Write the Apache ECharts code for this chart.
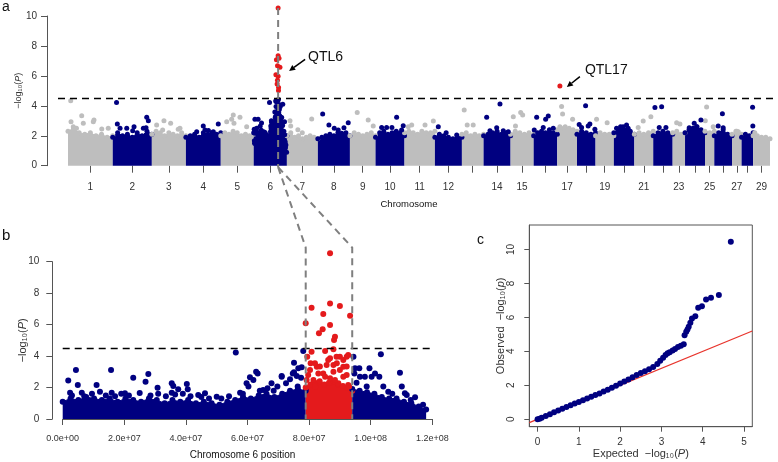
<!DOCTYPE html>
<html><head><meta charset="utf-8">
<script src="https://cdn.jsdelivr.net/npm/echarts@6/dist/echarts.min.js"></script>
<style>html,body{margin:0;padding:0;background:#fff}#c{width:778px;height:462px}</style>
</head><body><div id="c"></div>
<script>
// ---------------- DATA ----------------
const chrLenMb = [159,139,121,124,117,118,110,114,91,103,108,96,77,96,82,84,70,66,65,73,67,69,44,71,33,63,34,41,60];
const labeledChr = [1,2,3,4,5,6,7,8,9,10,11,12,14,15,17,19,21,23,25,27,29];
const threshold = 4.5;
// upper edge of the dense SNP band per chromosome (panel a), evenly along each chromosome
const bandTopA = [
 [2.3,2.5,2.2,2.1,2.2,2.0,2.1,1.9,2.0],
 [1.9,2.2,2.0,2.1,1.9,2.2,2.0,2.3,2.1],
 [2.1,2.3,2.2,2.0,2.2,2.1,2.0,2.2,2.0],
 [1.9,2.0,2.1,1.9,2.2,2.1,2.2,2.1,2.2],
 [2.0,2.2,2.1,2.3,2.2,2.0,2.1,2.0,2.1],
 [2.2,2.5,2.2,2.0,2.1,2.0,2.2,2.6,3.3,3.0,2.3,2.0],
 [2.0,2.2,1.9,2.0,1.8,1.9,2.0,1.9,1.8],
 [1.8,1.9,2.0,2.1,2.0,2.2,2.1,2.2,2.0],
 [2.0,2.2,2.1,2.0,2.1,2.2,2.0],
 [1.9,2.2,2.3,2.1,2.2,2.3,2.2,2.0],
 [2.2,2.3,2.2,2.1,2.3,2.2,2.2,2.3],
 [1.9,2.1,2.0,1.9,1.8,1.9,1.9],
 [2.1,2.2,2.0,2.1,2.0,2.1],
 [2.0,2.1,2.2,2.3,2.1,2.2,2.0],
 [2.1,2.3,2.2,2.1,2.2,2.1],
 [2.0,2.2,2.3,2.2,2.4,2.2,2.1],
 [2.4,2.5,2.6,2.5,2.4,2.3],
 [2.1,2.3,2.2,2.1,2.2],
 [2.0,2.2,2.1,2.1,2.0],
 [2.2,2.4,2.5,2.4,2.3,2.1],
 [2.1,2.2,2.1,2.2,2.3],
 [2.0,2.2,2.3,2.2,2.1],
 [2.2,2.3,2.1,2.2],
 [2.2,2.4,2.5,2.6,2.4,2.2],
 [2.3,2.2,2.3],
 [2.0,2.2,2.4,2.1,2.0],
 [2.1,2.3,2.1],
 [1.9,2.1,2.0,2.2],
 [2.0,2.0,1.9,1.9,1.8]
];
// individual SNPs above the band (chromosome, position Mb, -log10 P), chromosome 6 excluded
const dotsA = [
 [1,9.6,4.34],[1,48.7,3.34],[1,10.7,2.94],[1,54.4,2.83],[1,89.9,2.94],[1,143,2.5],[1,18.8,2.6],[1,92.4,3.05],[1,30,2.5],[1,120,2.45],
 [2,13.5,4.23],[2,16.3,2.79],[2,26,2.5],[2,49.8,2.5],[2,75.7,2.6],[2,71,2.34],[2,120.8,3.23],[2,126.5,3.0],[2,118.3,2.54],[2,108.8,2.5],
 [3,17,2.72],[3,43,3.0],[3,66.8,2.83],[3,38.4,2.38],[3,93.8,2.43],[3,99.9,2.5],
 [4,61.8,2.65],[4,67.9,2.38],[4,38.4,2.27],[4,97.4,2.27],[4,115.1,2.79],[4,80,2.35],
 [5,21,2.94],[5,38.7,3.1],[5,68.2,3.23],[5,46.9,2.83],[5,44.4,3.39],[5,92,2.6],
 [7,13.5,2.65],[7,54.7,2.2],[7,88.1,3.12],[7,11,3.0],[7,39,2.4],
 [8,17.1,3.45],[8,39.4,2.72],[8,58.3,2.5],[8,72.5,2.38],[8,92.8,2.54],[8,108,2.87],[8,84.6,2.16],
 [9,25.9,3.56],[9,65,3.05],[9,82.8,2.65],
 [10,75,3.23],[10,21.7,2.56],[10,39.4,2.56],[10,58.3,2.56],[10,98.4,2.67],[10,92.8,2.38],
 [11,13.5,2.6],[11,25.6,2.72],[11,72.9,2.72],[11,102.4,2.98],
 [12,12.1,2.6],[12,77.5,2.05],[12,40,2.2],
 [13,8.2,3.72],[13,18.8,2.72],[13,40.2,2.72],
 [14,58.3,4.12],[14,11,3.23],[14,46.6,2.54],[14,22.7,2.34],[14,70,2.34],[14,87.8,2.27],
 [15,9.6,3.27],[15,35.9,3.56],[15,43,3.39],[15,17.4,2.65],
 [16,10.7,3.23],[16,42.6,3.1],[16,51.9,3.32],[16,2.1,2.38],[16,34.1,2.56],[16,69.7,2.5],
 [17,15.3,3.96],[17,18.8,3.45],[17,54.4,3.1],[17,9.2,2.6],
 [18,30.6,4.01],[18,7.8,2.76],[18,16.3,2.56],[18,39.8,2.65],[18,45.8,2.79],[18,63.6,2.43],
 [19,3.6,3.1],[19,41.2,2.87],
 [20,9.6,2.5],[20,33,2.6],[20,45.1,2.72],[20,50.8,2.5],[20,23.8,2.6],
 [21,31.3,2.98],[21,58.6,3.27],[21,13.5,2.56],
 [22,6,3.88],[22,29.9,3.94],[22,21.3,2.56],[22,45.1,2.56],
 [23,25.9,2.79],[23,14.2,2.87],
 [24,14.9,2.54],[24,32.7,2.83],[24,41.2,2.6],[24,56.5,3.05],
 [25,5.7,3.92],[25,1,3.0],[25,29.1,2.6],
 [26,28.8,3.47],[26,13.9,2.65],[26,31.6,2.54],
 [27,22,2.27],[27,13.9,2.3],
 [28,39.1,3.9],[28,40,2.65],
 [29,6,2.2]
];
const qtl17 = [17, 9.2, 5.32];
// chromosome 6 SNPs (position Mb, -log10 P), shared by panels a and b
const chr6Dots = [
 [1.8,2.44],[4.3,3.11],[4.9,2.16],[2.4,1.67],[6.2,1.67],[11,2.16],[12.1,1.74],[15.7,3.11],[15.9,1.67],[20.2,1.63],
 [22.9,2.63],[26.9,2.37],[27.8,2.86],[30.8,1.99],[35.4,2.27],[35.9,2.1],[37.5,1.89],[40.3,2.22],[40.6,1.89],[35.4,1.67],
 [44,1.53],[46.2,1.63],[50,1.42],[56.2,4.22],[57.6,1.67],[59.7,2.27],[60.8,2.65],[62.8,3.0],[63.3,2.9],[61.9,2.48],
 [60.3,2.06],[65.1,1.84],[67.8,2.27],[69.7,2.06],[71.1,2.69],[72.5,2.27],[73.8,2.52],[74.7,2.9],[75.1,3.58],[76.5,3.22],
 [77.4,2.63],[76.3,2.06],[78.1,4.32],[75.1,2.97],[77.6,3.29],[71.1,2.73],[76,2.73],
 [3,1.5],[7,1.45],[9.5,1.6],[14,1.5],[17,1.45],[19,1.6],[21.5,1.5],[25,1.65],[28.5,1.5],[31,1.6],[33.5,1.45],
 [36.5,1.55],[39,1.6],[41.5,1.45],[45,1.4],[47.5,1.3],[51.5,1.3],[54,1.45],[58.5,1.6],[64,1.8],[66.5,1.95],[68.5,1.8],
 [94.4,3.96],[94.9,3.22],[96.3,3.22],[94.7,2.9],[96.5,2.69],[95.4,2.31],[98.1,2.69],[98.7,2.06],[99.6,3.22],[100.3,2.69],
 [101.4,2.9],[102.8,2.69],[103.3,4.11],[104.1,2.06],[105.7,1.74],[109.5,2.94],[110.1,2.06],[111.1,1.63],[111.7,1.53],
 [114.4,1.38],[117,0.9],[107,1.6],[113,1.2],
 [86.8,10.53],[80.8,7.08],[86.8,7.35],[90,7.18],[84.6,6.67],[93.3,6.57],[78.9,6.08],[86.8,5.98],[84.4,5.7],[83.2,5.45],
 [88.4,5.23],[88.1,5.02],[80.8,4.28],[85.2,4.32],[87.9,4.43],[92.7,4.07],[90,3.96],[86.8,3.86],[79.4,3.96],[80.5,3.54],
 [89,3.54],[85.7,3.43],[82.5,3.32],[91.1,3.32],[87.9,3.0],[84.6,2.9],[92.2,2.8],[79.7,2.8],[81.4,2.48],[86.8,2.59],
 [89.5,2.27],[82,2.05],[92.7,2.16],[91.1,3.75],[86.2,3.75],[81.9,3.54],[83.5,3.33],[92.2,3.33],[90,3.11],[80.3,3.11],
 [83,2.9],[85.2,2.69],[91.1,2.69],[79.2,2.48],[88.4,2.48],[93,2.06],[88.9,3.96],[92.2,3.96],[87.9,3.43]
];
const chr6Len = 118;
const qtlRegion = [78.9, 94];
// band tops in panel b: left of region, inside region, right of region (evenly along each stretch)
const bandBLeft = [1.1,1.3,1.2,1.4,1.3,1.2,1.3,1.1,1.3,1.2,1.1,1.3,1.2,1.0,1.2,1.1,1.2,1.0,1.1,1.0,0.9,1.1,1.2,1.4,1.3,1.5,1.6,1.4,1.6,1.8,1.9,1.8];
const bandBRed = [2.0,2.2,2.3,2.4,2.2,2.3,2.4,2.2,2.1,2.0,1.8];
const bandBRight = [1.9,1.8,1.7,1.6,1.4,1.3,1.3,1.1,1.0,0.8,0.6];
const xTicksB = [0,20,40,60,80,100,120]; // Mb
// QQ plot
const qqExp = [0,0.05,0.1,0.2,0.3,0.4,0.5,0.6,0.7,0.8,0.9,1.0,1.1,1.2,1.3,1.4,1.5,1.6,1.7,1.8,1.9,2.0,2.1,2.2,2.3,2.4,2.5,2.6,2.7,2.8,2.9,2.97,3.04,3.1,3.15,3.2,3.27,3.33,3.4,3.47,3.54,3.56,3.6,3.63,3.66,3.7,3.74,3.82,3.89,3.98,4.08,4.2,4.39,4.68];
const qqObs = [0,0.03,0.08,0.19,0.3,0.41,0.52,0.62,0.72,0.82,0.92,1.02,1.12,1.22,1.32,1.42,1.52,1.63,1.73,1.85,1.97,2.1,2.22,2.34,2.47,2.6,2.72,2.83,2.94,3.08,3.26,3.45,3.62,3.78,3.88,3.95,4.05,4.14,4.25,4.33,4.42,4.95,5.15,5.28,5.44,5.68,5.93,6.07,6.56,6.66,7.05,7.15,7.31,10.45];
const xTicksC = [0,1,2,3,4,5];
const yTicksC = [0,2,4,6,8,10];

// ---------------- CHART ----------------
const GRAY='#bebebe', NAVY='#000080', RED='#e41a1c', AX='#555', TX='#333';
const FONT = "'Liberation Sans', Arial, sans-serif";
const chart = echarts.init(document.getElementById('c'), null, {renderer:'canvas', width:778, height:462});

const cumStart=[]; let acc=0; chrLenMb.forEach(l=>{cumStart.push(acc); acc+=l;});
const total=acc;
const centers = chrLenMb.map((l,i)=>cumStart[i]+l/2);
const aPx = 702/total;             // panel a: chromosomes span 702 px
const xminA = -10/aPx, xmaxA = total + 8/aPx;

const series=[];
const noEmph={disabled:true};
bandTopA.forEach((arr,i)=>{
  const len=chrLenMb[i], st=cumStart[i], col = i%2===0?GRAY:NAVY;
  series.push({type:'line', xAxisIndex:0, yAxisIndex:0, silent:true, animation:false, z:2,
    data: arr.map((v,j)=>[st + j*len/(arr.length-1), v]),
    symbol:'circle', symbolSize:5, showSymbol:true, itemStyle:{color:col}, lineStyle:{color:col,width:1},
    areaStyle:{color:col, opacity:1}, emphasis:noEmph});
});
const dGray=[], dNavy=[], dRedA=[];
dotsA.forEach(([c,p,v])=>{ (c%2===1?dGray:dNavy).push([cumStart[c-1]+p, v]); });
chr6Dots.forEach(([p,v])=>{ (v>threshold?dRedA:dNavy).push([cumStart[5]+p, v]); });
dRedA.push([cumStart[qtl17[0]-1]+qtl17[1], qtl17[2]]);
const sc=(data,col,xi,size,z)=>({type:'scatter', xAxisIndex:xi, yAxisIndex:xi, silent:true, animation:false, clip:false,
   data, symbolSize:size, itemStyle:{color:col, opacity:1}, z, emphasis:noEmph});
series.push(sc(dGray,GRAY,0,5,3));
series.push(sc(dNavy,NAVY,0,5,3));
const redA = sc(dRedA,RED,0,5,4);
redA.markLine={silent:true, symbol:'none', animation:false, label:{show:false},
  lineStyle:{color:'#000', type:[7,5], width:1.3}, data:[{yAxis:threshold}]};
series.push(redA);

const span=(a,b,arr)=>arr.map((v,j)=>[a + j*(b-a)/(arr.length-1), v]);
[[0,qtlRegion[0],bandBLeft,NAVY],[qtlRegion[0],qtlRegion[1],bandBRed,RED],[qtlRegion[1],chr6Len,bandBRight,NAVY]].forEach(([a,b,arr,col])=>{
  series.push({type:'line', xAxisIndex:1, yAxisIndex:1, silent:true, animation:false, z:2,
    data: span(a,b,arr), symbol:'circle', symbolSize:6, showSymbol:true, itemStyle:{color:col},
    lineStyle:{color:col,width:1}, areaStyle:{color:col,opacity:1}, emphasis:noEmph});
});
const bNavy=[], bRed=[];
chr6Dots.forEach(([p,v])=>{ (p>=qtlRegion[0]-0.2 && p<=qtlRegion[1]+0.2 ? bRed : bNavy).push([p,v]); });
series.push(sc(bNavy,NAVY,1,6,3));
const redB = sc(bRed,RED,1,6,4);
redB.markLine={silent:true, symbol:'none', animation:false, label:{show:false},
  lineStyle:{color:'#000', type:[7,5], width:1.3}, data:[{yAxis:threshold}]};
series.push(redB);

series.push({type:'line', xAxisIndex:2, yAxisIndex:2, silent:true, animation:false, symbol:'none', z:2,
  data:[[-0.2,-0.2],[5.2,5.2]], lineStyle:{color:'#e8332b', width:1.2}, emphasis:noEmph});
series.push(sc(qqExp.map((e,i)=>[e,qqObs[i]]),NAVY,2,6,3));

const rich={i:{fontStyle:'italic', fontFamily:FONT}};
const axLine={show:true, onZero:false, lineStyle:{color:AX}};
const option={
  animation:false,
  textStyle:{fontFamily:FONT},
  grid:[
    {left:58, right:0, top:16, bottom:296.3},
    {left:62.7, right:345.7, top:261.7, bottom:43},
    {left:529.3, right:25.7, top:225, bottom:35.3, show:true, borderColor:AX, borderWidth:1}
  ],
  xAxis:[
    {gridIndex:0, type:'value', min:xminA, max:xmaxA, axisLine:{show:false, onZero:false}, splitLine:{show:false},
      axisTick:{show:true, length:7, customValues:centers, lineStyle:{color:AX}},
      axisLabel:{customValues:labeledChr.map(c=>centers[c-1]), margin:17, fontSize:10, color:TX,
        formatter:v=>{const i=centers.findIndex(c=>Math.abs(c-v)<1e-6); return i>=0?String(i+1):'';}}},
    {gridIndex:1, type:'value', min:0, max:120, interval:20, splitLine:{show:false},
      axisLine:axLine, axisTick:{length:6, lineStyle:{color:AX}},
      axisLabel:{fontSize:9, color:TX, margin:15,
        formatter:v=>(v*1e6).toExponential(1).replace(/e\+(\d)$/,'e+0$1')}},
    {gridIndex:2, type:'value', min:-0.2, max:5.2, splitLine:{show:false},
      axisLine:axLine, axisTick:{length:5, customValues:xTicksC, lineStyle:{color:AX}},
      axisLabel:{customValues:xTicksC, fontSize:10, color:TX, margin:11},
      name:'Expected  −log₁₀({i|P})', nameLocation:'middle', nameGap:22, nameMoveOverlap:false,
      nameTextStyle:{fontSize:11, color:TX, rich}}
  ],
  yAxis:[
    {gridIndex:0, type:'value', min:0, max:10, interval:2, offset:11, splitLine:{show:false},
      axisLine:axLine, axisTick:{length:6, lineStyle:{color:AX}},
      axisLabel:{fontSize:10, color:TX, margin:10},
      name:'−log₁₀({i|P})', nameLocation:'middle', nameRotate:90, nameGap:24, nameMoveOverlap:false,
      nameTextStyle:{fontSize:9, color:TX, rich}},
    {gridIndex:1, type:'value', min:0, max:10, interval:2, offset:10.4, splitLine:{show:false},
      axisLine:axLine, axisTick:{length:6, lineStyle:{color:AX}},
      axisLabel:{fontSize:10, color:TX, margin:13},
      name:'−log₁₀({i|P})', nameLocation:'middle', nameRotate:90, nameGap:24, nameMoveOverlap:false,
      nameTextStyle:{fontSize:11, color:TX, rich}},
    {gridIndex:2, type:'value', min:-0.44, max:11.44, splitLine:{show:false},
      axisLine:axLine, axisTick:{length:5, customValues:yTicksC, lineStyle:{color:AX}},
      axisLabel:{customValues:yTicksC, fontSize:10, color:TX, margin:13, rotate:90},
      name:'Observed  −log₁₀({i|p})', nameLocation:'middle', nameRotate:90, nameGap:23, nameMoveOverlap:false,
      nameTextStyle:{fontSize:11, color:TX, rich}}
  ],
  series
};
chart.setOption(option);

// ---------- annotations (positions derived from data through the axes) ----------
const P=(g,x,y)=>chart.convertToPixel({gridIndex:g},[x,y]);
const top6 = chr6Dots.reduce((m,d)=>d[1]>m[1]?d:m, [0,-1]);
const qA0 = P(0, cumStart[5]+top6[0], top6[1]);
const qA1 = P(0, cumStart[5]+top6[0], -0.1);
const bL0 = P(1, qtlRegion[0], 10.9), bL1 = P(1, qtlRegion[0], 0);
const bR0 = P(1, qtlRegion[1], 10.9), bR1 = P(1, qtlRegion[1], 0);
const dashG={stroke:'#7f7f7f', lineWidth:2, lineDash:[7,5], fill:null};
function arrow(x1,y1,x2,y2){
  const a=Math.atan2(y2-y1,x2-x1), L=6, W=3;
  const bx=x2-L*Math.cos(a), by=y2-L*Math.sin(a), px=-Math.sin(a)*W, py=Math.cos(a)*W;
  return [{type:'line', z:20, shape:{x1,y1,x2:bx,y2:by}, style:{stroke:'#000', lineWidth:1.5}},
          {type:'polygon', z:20, shape:{points:[[x2,y2],[bx+px,by+py],[bx-px,by-py]]}, style:{fill:'#000'}}];
}
const q6 = P(0, cumStart[5]+top6[0], 6.33);
const q17 = P(0, cumStart[16]+qtl17[1], qtl17[2]);
const T=(x,y,text,size,align)=>({type:'text', x, y, z:20, style:{text, fill:'#111', font:size+'px '+FONT,
   textAlign:align||'left', textVerticalAlign:'middle', align:align||'left', verticalAlign:'middle'}});
const graphic=[
  {type:'polyline', z:15, shape:{points:[qA0,qA1]}, style:dashG},
  {type:'polyline', z:15, shape:{points:[qA1,bL0,bL1]}, style:dashG},
  {type:'polyline', z:15, shape:{points:[qA1,bR0,bR1]}, style:dashG},
  ...arrow(q6[0]+27, q6[1]-11.5, q6[0]+11, q6[1]),
  ...arrow(q17[0]+20, q17[1]-9.5, q17[0]+7, q17[1]+1),
  T(q6[0]+30, q6[1]-13.5, 'QTL6', 14),
  T(q17[0]+25, q17[1]-16, 'QTL17', 14),
  T(409, 204, 'Chromosome', 9.5, 'center'),
  T(242.5, 455, 'Chromosome 6 position', 10, 'center'),
  T(2, 7, 'a', 14), T(2, 236, 'b', 15), T(477, 240, 'c', 14)
];
chart.setOption({graphic});
</script></body></html>
